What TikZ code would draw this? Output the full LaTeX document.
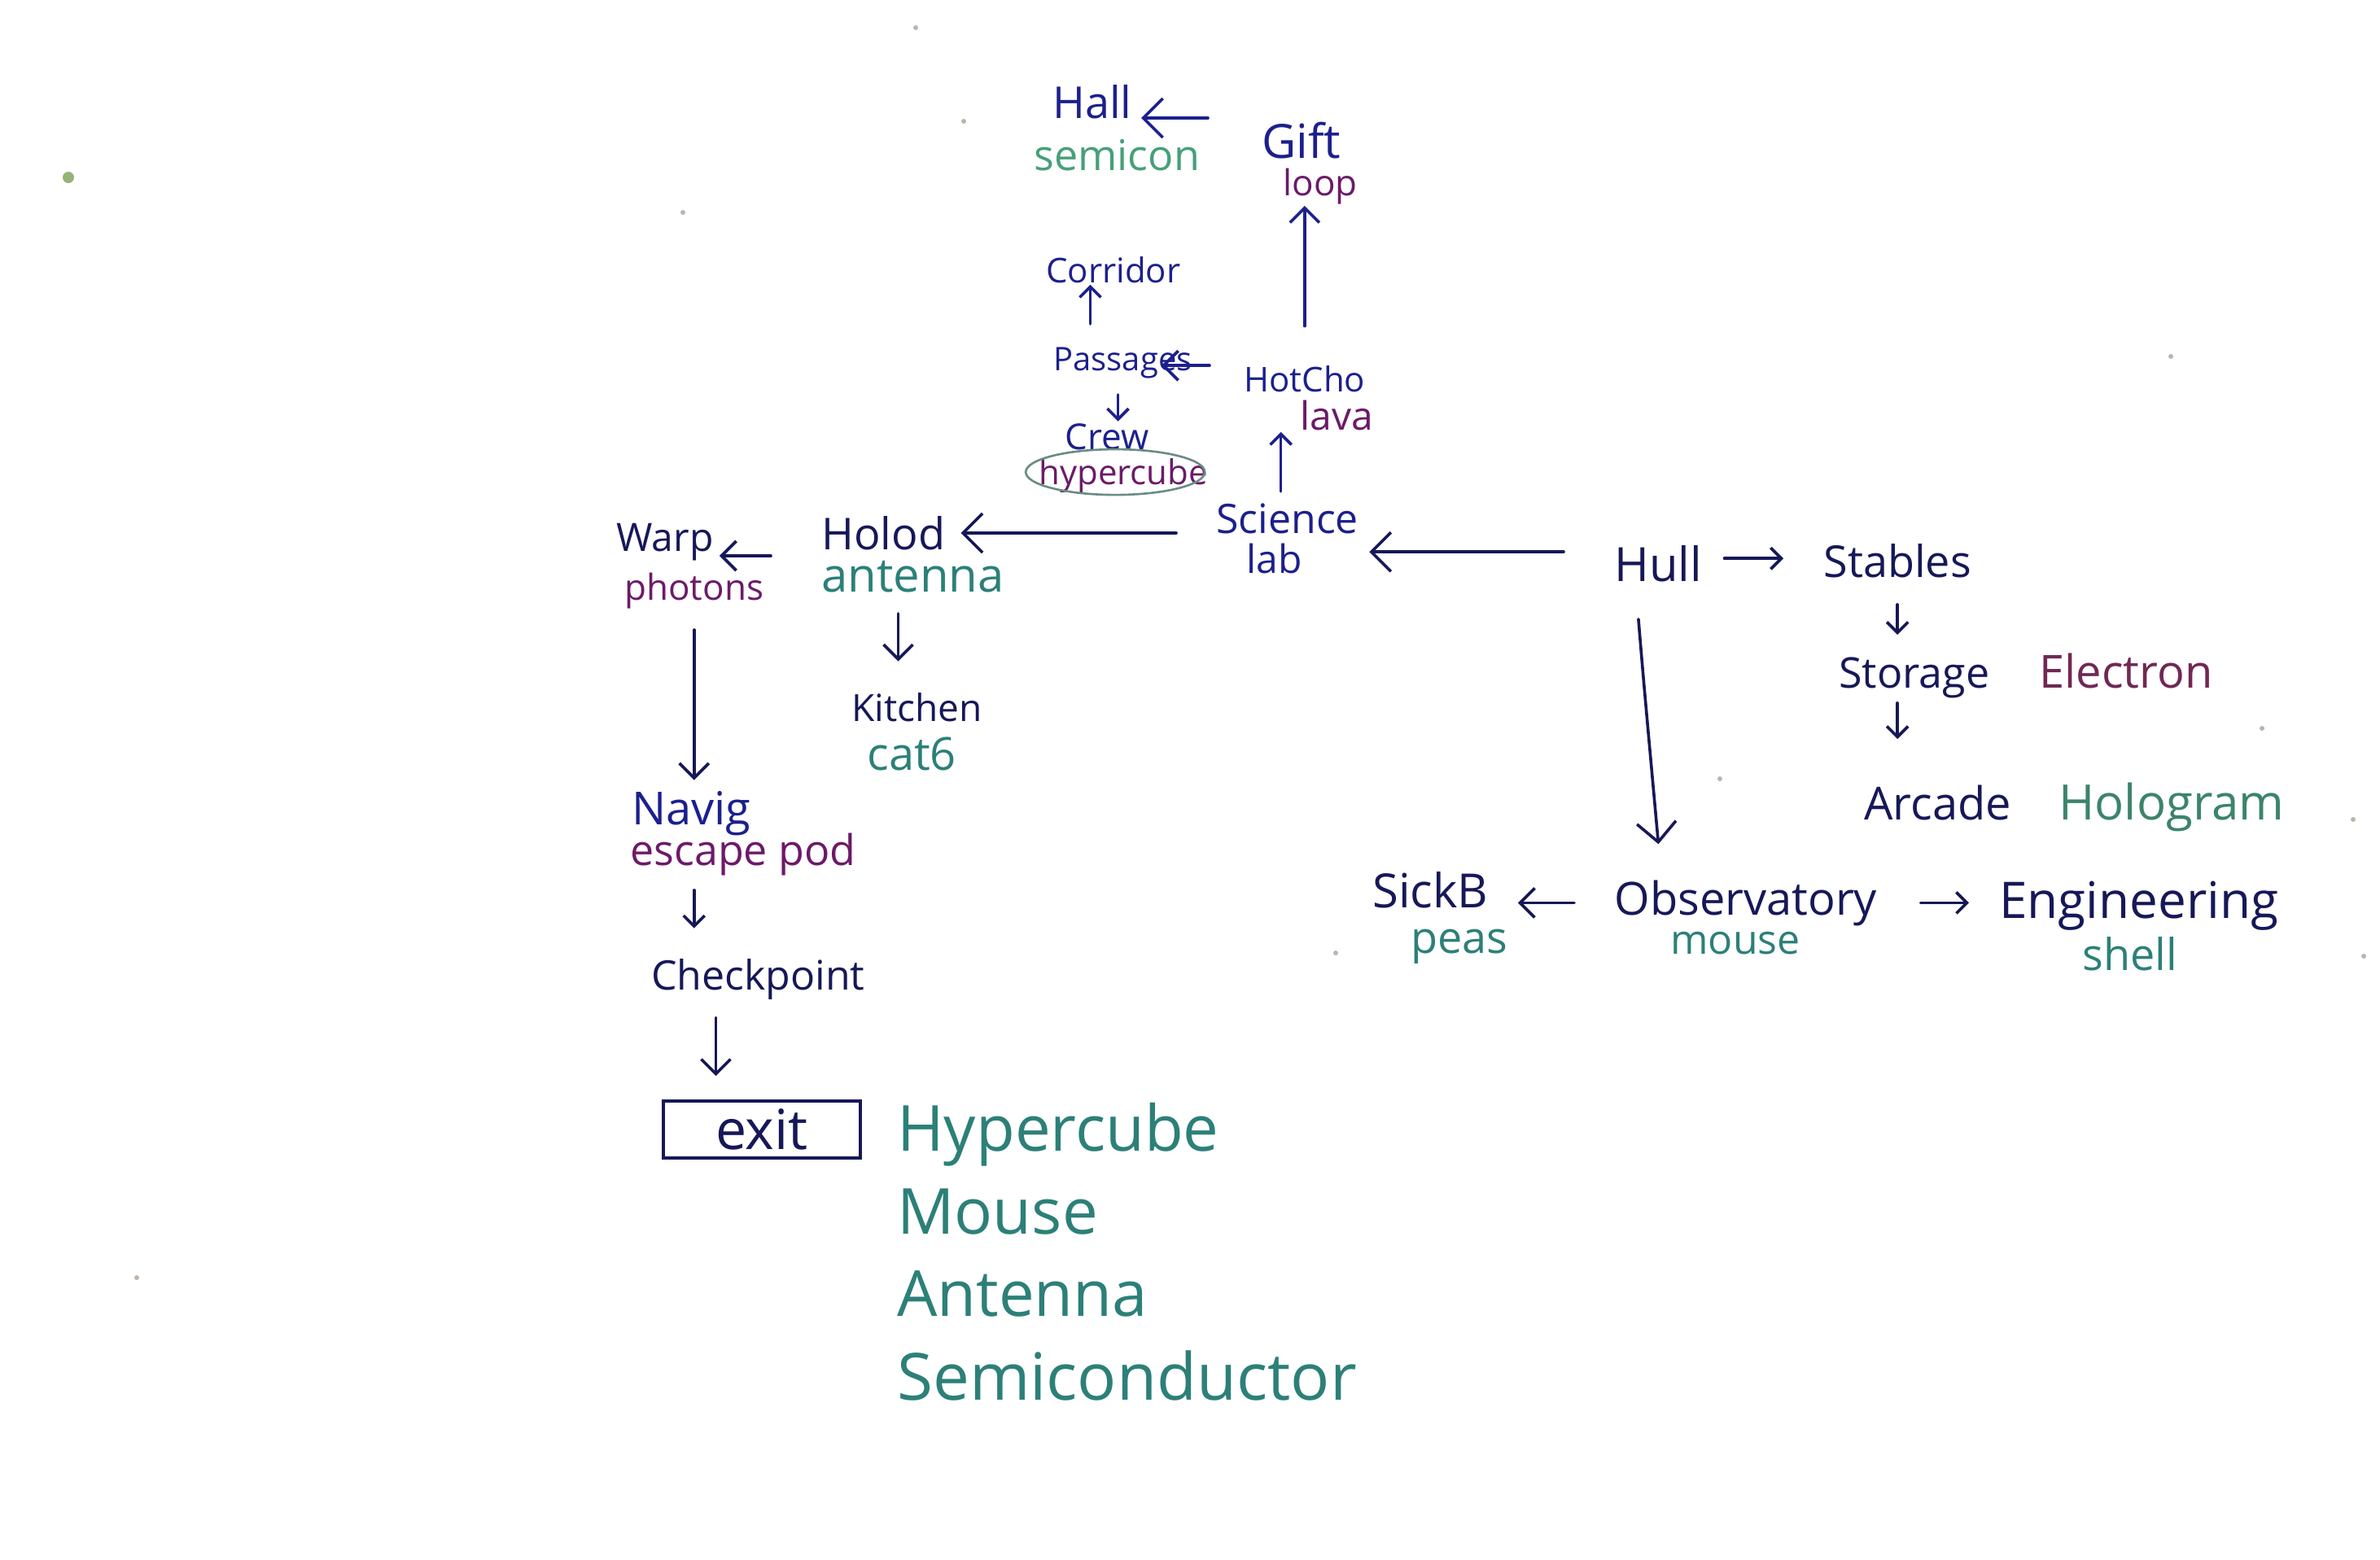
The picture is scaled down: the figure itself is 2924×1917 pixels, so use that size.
\documentclass[tikz,border=0pt]{standalone}
\usepackage{fontspec}
\setmainfont{Open Sans}
\usetikzlibrary{arrows.meta}
\definecolor{ink}{RGB}{28,32,140}
\definecolor{navy}{RGB}{22,24,88}
\definecolor{plum}{RGB}{108,26,104}
\definecolor{tealc}{RGB}{44,128,120}
\definecolor{mint}{RGB}{70,160,120}
\definecolor{elecc}{RGB}{112,40,84}
\definecolor{holoc}{RGB}{60,132,106}
\definecolor{ellc}{RGB}{105,140,130}
\definecolor{speck}{RGB}{190,180,170}
\newcommand{\fsz}[1]{\fontsize{#1}{#1}\selectfont}
\begin{document}
\begin{tikzpicture}[x=0.5pt,y=-0.5pt,
  lb/.style={inner sep=1pt, anchor=base west, text=ink},
  arr/.style={draw=ink, line width=1.8pt, line cap=round,
    -{Straight Barb[length=9pt,width=18pt,line width=1.8pt]}},
  arrsm/.style={arr, -{Straight Barb[length=6.5pt,width=13pt,line width=1.8pt]}},
  arrbig/.style={arr, -{Straight Barb[length=12pt,width=24pt,line width=1.8pt]}},
  navyarr/.style={draw=navy}
]
\useasboundingbox[fill=white] (0,0) rectangle (2924,1917);

% specks
\fill[fill={rgb,255:red,150;green,180;blue,120}] (84,218) circle (3.5pt);
\foreach \p in {(1184,149),(839,261),(1125,34),(2667,438),(2113,957),(1641,1171),(168,1570),(2779,895),(2891,1007),(2904,1175)}
  \fill[speck] \p circle (1.5pt);

% top cluster
\node[lb,font=\fsz{27}] (hall) at (1291,145) {Hall};
\node[lb,text=mint,font=\fsz{26}] (semicon) at (1268,209) {semicon};
\node[lb,font=\fsz{29}] (gift) at (1548,194) {Gift};
\node[lb,text=plum,font=\fsz{22}] (loop) at (1574,240) {loop};
\node[lb,font=\fsz{21}] (corr) at (1283,347) {Corridor};
\node[lb,font=\fsz{20}] (pass) at (1292,455) {Passages};
\node[lb,font=\fsz{22}] (crew) at (1306,552) {Crew};
\node[lb,text=plum,font=\fsz{21}] (hyp) at (1274,595) {hypercube};
\draw[ellc, line width=1.3pt] ([xshift=-5pt,yshift=2pt]hyp.center) ellipse [x radius=55pt, y radius=14pt];
\node[lb,font=\fsz{21}] (hot) at (1526,481) {HotCho};
\node[lb,text=plum,font=\fsz{24}] (lava) at (1595,528) {lava};
\node[lb,font=\fsz{25}] (sci) at (1492,655) {Science};
\node[lb,font=\fsz{24}] (lab) at (1529,704) {lab};

% right cluster
\node[lb,text=navy,font=\fsz{29}] (hull) at (1981,714) {Hull};
\node[lb,text=navy,font=\fsz{27}] (stab) at (2238,709) {Stables};
\node[lb,text=navy,font=\fsz{26}] (stor) at (2257,845) {Storage};
\node[lb,text=elecc,font=\fsz{28}] (elec) at (2503,845) {Electron};
\node[lb,text=navy,font=\fsz{28}] (arc) at (2288,1007) {Arcade};
\node[lb,text=holoc,font=\fsz{30}] (holo) at (2527,1007) {Hologram};
\node[lb,text=navy,font=\fsz{28}] (obs) at (1981,1124) {Observatory};
\node[lb,text=tealc,font=\fsz{25}] (mouse) at (2050,1172) {mouse};
\node[lb,text=navy,font=\fsz{29}] (sick) at (1684,1115) {SickB};
\node[lb,text=tealc,font=\fsz{27}] (peas) at (1731,1171) {peas};
\node[lb,text=navy,font=\fsz{31}] (eng) at (2454,1128) {Engineering};
\node[lb,text=tealc,font=\fsz{27}] (shell) at (2556,1192) {shell};

% left cluster
\node[lb,text=navy,font=\fsz{27}] (holod) at (1007,675) {Holod};
\node[lb,text=tealc,font=\fsz{29}] (ant) at (1007,727) {antenna};
\node[lb,text=navy,font=\fsz{24}] (warp) at (755,677) {Warp};
\node[lb,text=plum,font=\fsz{22}] (phot) at (765,737) {photons};
\node[lb,text=navy,font=\fsz{23}] (kit) at (1044,886) {Kitchen};
\node[lb,text=tealc,font=\fsz{28}] (cat) at (1063,946) {cat6};
\node[lb,font=\fsz{28}] (navig) at (774,1013) {Navig};
\node[lb,text=plum,font=\fsz{26}] (esc) at (772,1063) {escape pod};
\node[lb,text=navy,font=\fsz{25}] (check) at (798,1216) {Checkpoint};
\node[draw=navy, line width=1.8pt, text=navy, font=\fsz{34}, minimum width=121pt,
  minimum height=35pt, inner sep=0pt] (exit) at (936,1388) {exit};

% list
\node[lb,text=tealc,font=\fsz{39}] (l1) at (1100,1414) {Hypercube};
\node[lb,text=tealc,font=\fsz{39}] (l2) at (1100,1516) {Mouse};
\node[lb,text=tealc,font=\fsz{39}] (l3) at (1100,1617) {Antenna};
\node[lb,text=tealc,font=\fsz{40}] (l4) at (1100,1720) {Semiconductor};

% connectors
\draw[arrbig, shorten <=32pt, shorten >=4.5pt] (gift.west |- hall.base) -- (hall.base east);
\draw[arr, shorten <=23pt] (hot.north) -- (hot.north |- loop.south);
\draw[arrsm, shorten <=13pt] ([xshift=-20pt]pass.north) -- ([xshift=-20pt]pass.north |- corr.south);
\draw[arr, shorten <=20pt, shorten >=-20pt] ([yshift=8pt]hot.west) -- ([yshift=8pt]hot.west -| pass.east);
\draw[arrsm, shorten <=9pt] ([xshift=-3pt]pass.south) -- ([xshift=-3pt]pass.south |- crew.north);
\draw[arrsm, shorten <=6pt] ([xshift=-4pt]sci.north) -- ([xshift=-4pt]sci.north |- lava.south);
\draw[arrbig, navyarr, shorten <=30pt, shorten >=5.5pt] ([yshift=7pt]hull.west) -- ([yshift=7pt]hull.west -| sci.east);
\draw[arrsm, navyarr, shorten <=12.5pt, shorten >=23.5pt] ([yshift=3pt]hull.east) -- ([yshift=3pt]hull.east -| stab.west);
\draw[arrsm, navyarr, shorten <=15.5pt, shorten >=12.5pt] (stab.south) -- (stab.south |- stor.north);
\draw[arrsm, navyarr, shorten <=2pt, shorten >=27pt] (stab.south |- stor.south) -- (stab.south |- arc.north);
\draw[arrbig, navyarr, shorten <=22pt, shorten >=21pt] ([xshift=-14pt]hull.south) .. controls ([xshift=-9pt,yshift=-60pt]hull.south) .. ([xshift=2pt]hull.south |- obs.north);
\draw[arr, navyarr, shorten <=23.5pt, shorten >=17pt] (obs.west) -- (obs.west -| sick.east);
\draw[arrsm, navyarr, shorten <=25.5pt, shorten >=17.5pt] (obs.east) -- (obs.east -| eng.west);
\draw[arrbig, navyarr, shorten <=23.5pt, shorten >=8.5pt] (sci.base west) -- (sci.base west -| holod.east);
\draw[arr, navyarr, shorten <=30pt, shorten >=2.5pt] ([yshift=-4pt]holod.base west) -- ([yshift=-4pt]holod.base west -| warp.east);
\draw[arr, navyarr, shorten <=12pt, shorten >=18pt] ([xshift=-9pt]ant.south) -- ([xshift=-9pt]ant.south |- kit.north);
\draw[arr, navyarr, shorten <=12pt, shorten >=5.5pt] (phot.south) -- (phot.south |- navig.north);
\draw[arrsm, navyarr, shorten <=8pt, shorten >=17.5pt] (phot.south |- esc.south) -- (phot.south |- check.north);
\draw[arr, navyarr, shorten <=10pt, shorten >=14.5pt] ([xshift=-26pt]check.south) -- ([xshift=-26pt]check.south |- exit.north);
\end{tikzpicture}
\end{document}
